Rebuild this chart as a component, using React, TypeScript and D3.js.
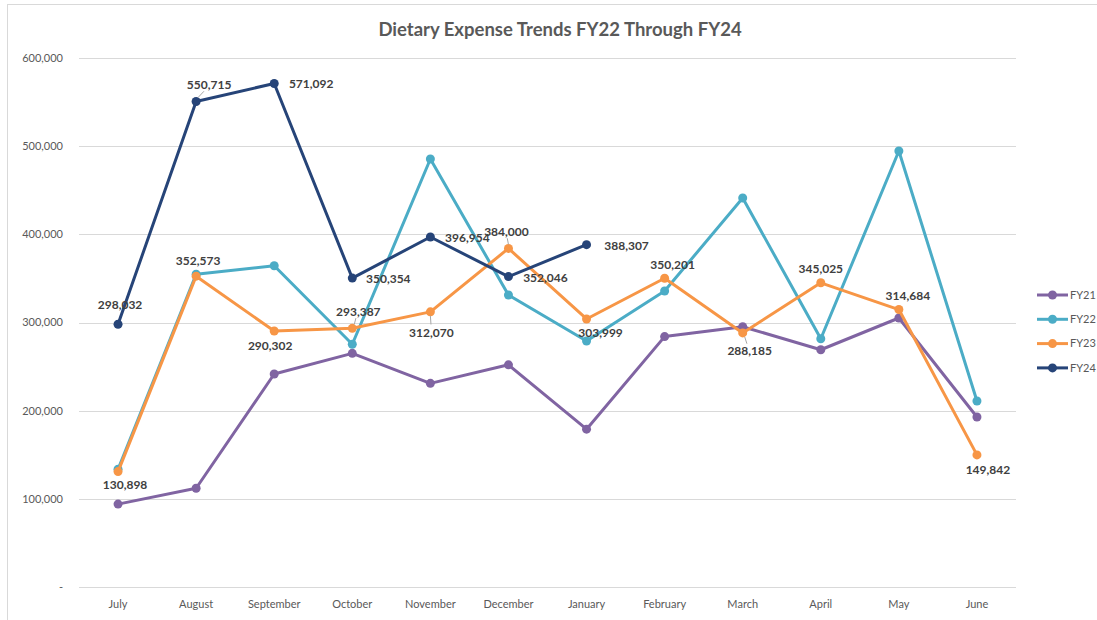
import React from 'react';
import * as d3 from 'd3';

const months = ['July', 'August', 'September', 'October', 'November', 'December', 'January', 'February', 'March', 'April', 'May', 'June'];
const seriesNames = ['FY21', 'FY22', 'FY23', 'FY24'];

const fy21 = [94000, 112000, 241600, 265000, 231000, 252000, 179000, 284000, 295200, 269100, 305100, 192800];
const fy22 = [133500, 354700, 364400, 275300, 485400, 331200, 279000, 335700, 441200, 281600, 494500, 211000];
const fy23 = [130898, 352573, 290302, 293387, 312070, 384000, 303999, 350201, 288185, 345025, 314684, 149842];
const fy24 = [298032, 550715, 571092, 350354, 396954, 352046, 388307];

const yTicks = [0, 100000, 200000, 300000, 400000, 500000, 600000];

const colors = ['#8064A2', '#4BACC6', '#F79646', '#264478'];

// label offsets (dx, dy from the point) for the labelled series, plus leader flags
const fy23Labels: [number, number, boolean][] = [
  [7, 13, false], [2, -15, false], [-4, 15, false], [6, -17, true], [1, 21, true], [-2, -17, true],
  [14, 14, false], [8, -13, false], [7, 18, true], [0, -14, false], [9, -14, false], [11, 15, false],
];
const fy24Labels: [number, number, boolean][] = [
  [2, -19, false], [13, -17, true], [37, 0, false], [36, 1, false], [37, 1, false], [37, 1, false], [40, 1, false],
];

const W = 1097;
const H = 620;
const left = 79;
const right = 1016;
const top = 58;
const bottom = 587;

export default function App() {
  const x = d3.scalePoint<string>().domain(months).range([left, right]).padding(0.5);
  const y = d3.scaleLinear().domain([0, 600000]).range([bottom, top]);
  const fmt = d3.format(',');
  const line = d3.line<number>().x((_, i) => x(months[i]) as number).y(d => y(d));
  const all = [fy21, fy22, fy23, fy24];
  const font = 'Lato, "Open Sans", sans-serif';

  const labels = (data: number[], offs: [number, number, boolean][], key: string) =>
    data.map((v, i) => {
      const px = x(months[i]) as number;
      const py = y(v);
      const [dx, dy, leader] = offs[i];
      return (
        <g key={key + i}>
          {leader && (
            <line x1={px + (dx > 3 ? 2 : 0)} y1={py + (dy < 0 ? -4 : 4)} x2={px + dx * 0.6} y2={py + dy * 0.6}
              stroke="#a6a6a6" strokeWidth={1} />
          )}
          <text x={px + dx} y={py + dy} dy="0.35em" textAnchor="middle" fontSize={12} fontWeight={700} fill="#404040">
            {fmt(v)}
          </text>
        </g>
      );
    });

  return (
    <svg width={W} height={H} style={{ position: 'absolute', left: 0, top: 0, fontFamily: font }}>
      <rect x={0} y={0} width={W} height={H} fill="#fff" />
      <rect x={7.5} y={4.5} width={1200} height={640} fill="none" stroke="#d9d9d9" />
      <text x={560} y={30} dy="0.35em" textAnchor="middle" fontSize={18.5} fontWeight={700} fill="#595959">
        Dietary Expense Trends FY22 Through FY24
      </text>
      {yTicks.map(t => (
        <g key={t}>
          <line x1={left} x2={right} y1={Math.round(y(t)) + 0.5} y2={Math.round(y(t)) + 0.5} stroke="#d9d9d9" strokeWidth={1} />
          <text x={63} y={y(t)} dy="0.35em" textAnchor="end" fontSize={11} fill="#595959">
            {t === 0 ? '-' : fmt(t)}
          </text>
        </g>
      ))}
      {months.map(m => (
        <text key={m} x={x(m)} y={604} dy="0.35em" textAnchor="middle" fontSize={11} fill="#595959">{m}</text>
      ))}
      {all.map((d, s) => (
        <g key={seriesNames[s]}>
          <path d={line(d) as string} fill="none" stroke={colors[s]} strokeWidth={3} strokeLinejoin="round" />
          {d.map((v, i) => (
            <circle key={i} cx={x(months[i])} cy={y(v)} r={4.5} fill={colors[s]} />
          ))}
        </g>
      ))}
      {labels(fy23, fy23Labels, 'a')}
      {labels(fy24, fy24Labels, 'b')}
      {seriesNames.map((n, s) => {
        const ly = 295 + s * 24.3;
        return (
          <g key={n}>
            <line x1={1037} x2={1068} y1={ly} y2={ly} stroke={colors[s]} strokeWidth={3} />
            <circle cx={1052.5} cy={ly} r={4.5} fill={colors[s]} />
            <text x={1070} y={ly} dy="0.35em" fontSize={11} fill="#595959">{n}</text>
          </g>
        );
      })}
    </svg>
  );
}
